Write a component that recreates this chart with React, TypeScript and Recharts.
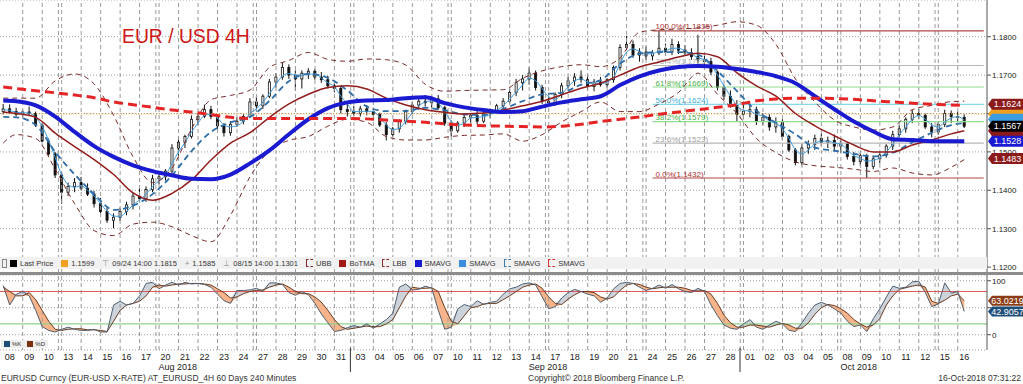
import React from "react";
import {ComposedChart, Bar, Line, Area, XAxis, YAxis, CartesianGrid, ReferenceLine} from "recharts";

const FONT = "'Liberation Sans', Arial, sans-serif";

// trading days on the axis (Aug 08 .. Oct 16 2018)
const dayLabels = [
  "08", "09", "10", "13", "14", "15", "16", "17", "20", "21", "22", "23", "24", "27", "28", "29", "30", "31",
  "03", "04", "05", "06", "07", "10", "11", "12", "13", "14", "17", "18", "19", "20", "21", "24", "25", "26", "27", "28",
  "01", "02", "03", "04", "05", "08", "09", "10", "11", "12", "15", "16",
];
const fridays = [2, 7, 12, 17, 22, 27, 32, 37, 42, 47];
const monthLabels = ["Aug 2018", "Sep 2018", "Oct 2018"];
const monthDays = [8, 27, 43];
const monthBreaks = [18, 38];

// 8h candles: open, high, low, close
const candles: number[][] = [
  // Aug 07 (late)
  [1.1605, 1.1625, 1.1598, 1.1612],
  // Aug 08
  [1.1612, 1.1624, 1.1600, 1.1605], [1.1605, 1.1615, 1.1592, 1.1598], [1.1598, 1.1610, 1.1590, 1.1604],
  // Aug 09
  [1.1604, 1.1618, 1.1595, 1.1600], [1.1600, 1.1605, 1.1565, 1.1570], [1.1570, 1.1575, 1.1525, 1.1528],
  // Aug 10
  [1.1528, 1.1535, 1.1490, 1.1495], [1.1495, 1.1500, 1.1432, 1.1440], [1.1440, 1.1448, 1.1365, 1.1395],
  // Aug 13
  [1.1395, 1.1420, 1.1385, 1.1410], [1.1410, 1.1432, 1.1395, 1.1420], [1.1420, 1.1435, 1.1400, 1.1405],
  // Aug 14
  [1.1405, 1.1418, 1.1385, 1.1390], [1.1390, 1.1398, 1.1355, 1.1365], [1.1365, 1.1380, 1.1340, 1.1345],
  // Aug 15
  [1.1345, 1.1355, 1.1315, 1.1322], [1.1322, 1.1340, 1.1301, 1.1330], [1.1330, 1.1355, 1.1320, 1.1345],
  // Aug 16
  [1.1345, 1.1370, 1.1335, 1.1362], [1.1362, 1.1395, 1.1350, 1.1385], [1.1385, 1.1405, 1.1370, 1.1378],
  // Aug 17
  [1.1378, 1.1410, 1.1370, 1.1402], [1.1402, 1.1440, 1.1395, 1.1430], [1.1430, 1.1445, 1.1415, 1.1435],
  // Aug 20
  [1.1435, 1.1455, 1.1425, 1.1450], [1.1450, 1.1520, 1.1445, 1.1510], [1.1510, 1.1540, 1.1490, 1.1525],
  // Aug 21
  [1.1525, 1.1545, 1.1510, 1.1540], [1.1540, 1.1595, 1.1535, 1.1585], [1.1585, 1.1600, 1.1570, 1.1592],
  // Aug 22
  [1.1592, 1.1623, 1.1588, 1.1610], [1.1610, 1.1620, 1.1585, 1.1592], [1.1592, 1.1598, 1.1560, 1.1568],
  // Aug 23
  [1.1568, 1.1575, 1.1540, 1.1550], [1.1550, 1.1580, 1.1542, 1.1572], [1.1572, 1.1590, 1.1565, 1.1580],
  // Aug 24
  [1.1580, 1.1598, 1.1572, 1.1592], [1.1592, 1.1640, 1.1588, 1.1630], [1.1630, 1.1645, 1.1605, 1.1620],
  // Aug 27
  [1.1620, 1.1650, 1.1612, 1.1645], [1.1645, 1.1690, 1.1640, 1.1682], [1.1682, 1.1705, 1.1668, 1.1695],
  // Aug 28
  [1.1695, 1.1733, 1.1688, 1.1720], [1.1720, 1.1728, 1.1690, 1.1700], [1.1700, 1.1712, 1.1660, 1.1690],
  // Aug 29
  [1.1690, 1.1712, 1.1665, 1.1705], [1.1705, 1.1718, 1.1690, 1.1710], [1.1710, 1.1716, 1.1688, 1.1695],
  // Aug 30
  [1.1695, 1.1708, 1.1680, 1.1688], [1.1688, 1.1698, 1.1665, 1.1672], [1.1672, 1.1680, 1.1655, 1.1665],
  // Aug 31
  [1.1665, 1.1670, 1.1600, 1.1610], [1.1610, 1.1625, 1.1592, 1.1605], [1.1605, 1.1620, 1.1595, 1.1600],
  // Sep 03
  [1.1600, 1.1620, 1.1592, 1.1612], [1.1612, 1.1622, 1.1595, 1.1605], [1.1605, 1.1615, 1.1592, 1.1598],
  // Sep 04
  [1.1598, 1.1602, 1.1565, 1.1570], [1.1570, 1.1578, 1.1530, 1.1545], [1.1545, 1.1565, 1.1540, 1.1560],
  // Sep 05
  [1.1560, 1.1585, 1.1550, 1.1580], [1.1580, 1.1610, 1.1572, 1.1605], [1.1605, 1.1630, 1.1598, 1.1622],
  // Sep 06
  [1.1622, 1.1642, 1.1610, 1.1632], [1.1632, 1.1648, 1.1618, 1.1628], [1.1628, 1.1645, 1.1615, 1.1638],
  // Sep 07
  [1.1638, 1.1648, 1.1610, 1.1615], [1.1615, 1.1620, 1.1568, 1.1575], [1.1575, 1.1582, 1.1540, 1.1555],
  // Sep 10
  [1.1555, 1.1580, 1.1550, 1.1575], [1.1575, 1.1598, 1.1565, 1.1590], [1.1590, 1.1600, 1.1575, 1.1595],
  // Sep 11
  [1.1595, 1.1610, 1.1572, 1.1580], [1.1580, 1.1605, 1.1575, 1.1600], [1.1600, 1.1612, 1.1588, 1.1605],
  // Sep 12
  [1.1605, 1.1625, 1.1600, 1.1620], [1.1620, 1.1640, 1.1612, 1.1632], [1.1632, 1.1665, 1.1625, 1.1655],
  // Sep 13
  [1.1655, 1.1690, 1.1645, 1.1680], [1.1680, 1.1700, 1.1660, 1.1690], [1.1690, 1.1720, 1.1675, 1.1705],
  // Sep 14
  [1.1705, 1.1712, 1.1660, 1.1668], [1.1668, 1.1675, 1.1625, 1.1632], [1.1632, 1.1645, 1.1622, 1.1628],
  // Sep 17
  [1.1628, 1.1655, 1.1620, 1.1650], [1.1650, 1.1680, 1.1640, 1.1672], [1.1672, 1.1695, 1.1665, 1.1685],
  // Sep 18
  [1.1685, 1.1705, 1.1672, 1.1695], [1.1695, 1.1712, 1.1680, 1.1688], [1.1688, 1.1700, 1.1660, 1.1670],
  // Sep 19
  [1.1670, 1.1690, 1.1658, 1.1682], [1.1682, 1.1695, 1.1670, 1.1675], [1.1675, 1.1692, 1.1668, 1.1688],
  // Sep 20
  [1.1688, 1.1725, 1.1680, 1.1720], [1.1720, 1.1780, 1.1712, 1.1772], [1.1772, 1.1802, 1.1765, 1.1780],
  // Sep 21
  [1.1780, 1.1790, 1.1745, 1.1752], [1.1752, 1.1770, 1.1735, 1.1760], [1.1760, 1.1775, 1.1740, 1.1750],
  // Sep 24
  [1.1750, 1.1765, 1.1738, 1.1758], [1.1758, 1.1815, 1.1752, 1.1770], [1.1770, 1.1782, 1.1750, 1.1760],
  // Sep 25
  [1.1760, 1.1795, 1.1752, 1.1780], [1.1780, 1.1788, 1.1755, 1.1765], [1.1765, 1.1778, 1.1750, 1.1758],
  // Sep 26
  [1.1758, 1.1770, 1.1740, 1.1748], [1.1748, 1.1805, 1.1730, 1.1740], [1.1740, 1.1752, 1.1720, 1.1735],
  // Sep 27
  [1.1735, 1.1745, 1.1700, 1.1708], [1.1708, 1.1712, 1.1660, 1.1668], [1.1668, 1.1675, 1.1635, 1.1645],
  // Sep 28
  [1.1645, 1.1660, 1.1615, 1.1622], [1.1622, 1.1635, 1.1580, 1.1598], [1.1598, 1.1625, 1.1585, 1.1605],
  // Oct 01
  [1.1605, 1.1625, 1.1590, 1.1610], [1.1610, 1.1618, 1.1570, 1.1580], [1.1580, 1.1600, 1.1570, 1.1590],
  // Oct 02
  [1.1590, 1.1598, 1.1555, 1.1565], [1.1565, 1.1590, 1.1550, 1.1578], [1.1578, 1.1585, 1.1530, 1.1540],
  // Oct 03
  [1.1540, 1.1545, 1.1500, 1.1505], [1.1505, 1.1510, 1.1465, 1.1472], [1.1472, 1.1520, 1.1465, 1.1510],
  // Oct 04
  [1.1510, 1.1530, 1.1495, 1.1520], [1.1520, 1.1545, 1.1505, 1.1535], [1.1535, 1.1548, 1.1515, 1.1525],
  // Oct 05
  [1.1525, 1.1540, 1.1510, 1.1530], [1.1530, 1.1545, 1.1505, 1.1515], [1.1515, 1.1530, 1.1498, 1.1522],
  // Oct 08
  [1.1522, 1.1525, 1.1480, 1.1488], [1.1488, 1.1500, 1.1465, 1.1475], [1.1475, 1.1498, 1.1465, 1.1490],
  // Oct 09
  [1.1490, 1.1495, 1.1432, 1.1462], [1.1462, 1.1490, 1.1455, 1.1482], [1.1482, 1.1500, 1.1470, 1.1492],
  // Oct 10
  [1.1492, 1.1520, 1.1485, 1.1515], [1.1515, 1.1555, 1.1505, 1.1545], [1.1545, 1.1570, 1.1535, 1.1560],
  // Oct 11
  [1.1560, 1.1590, 1.1550, 1.1585], [1.1585, 1.1610, 1.1575, 1.1600], [1.1600, 1.1612, 1.1585, 1.1595],
  // Oct 12
  [1.1595, 1.1600, 1.1560, 1.1565], [1.1565, 1.1575, 1.1538, 1.1552], [1.1552, 1.1580, 1.1545, 1.1572],
  // Oct 15
  [1.1572, 1.1610, 1.1565, 1.1600], [1.1600, 1.1608, 1.1575, 1.1592], [1.1592, 1.1605, 1.1578, 1.1590],
  // Oct 16
  [1.1590, 1.1598, 1.1562, 1.1567],
];

// fast SMAVG (thin light blue), one value per candle
const smaFast = [1.1610,
  1.1608, 1.1603, 1.1602, 1.1601, 1.1590, 1.1566, 1.1530, 1.1485, 1.1440, 1.1415, 1.1408, 1.1412,
  1.1400, 1.1385, 1.1365, 1.1345, 1.1333, 1.1332, 1.1345, 1.1362, 1.1375, 1.1390, 1.1410, 1.1425,
  1.1440, 1.1470, 1.1500, 1.1525, 1.1552, 1.1575, 1.1595, 1.1598, 1.1588, 1.1570, 1.1565, 1.1568,
  1.1580, 1.1600, 1.1612, 1.1630, 1.1652, 1.1675, 1.1698, 1.1704, 1.1700, 1.1700, 1.1702, 1.1703,
  1.1692, 1.1680, 1.1670, 1.1645, 1.1625, 1.1605, 1.1605, 1.1606, 1.1605, 1.1590, 1.1570, 1.1558,
  1.1562, 1.1580, 1.1602, 1.1620, 1.1630, 1.1633, 1.1627, 1.1605, 1.1580, 1.1570, 1.1575, 1.1588,
  1.1590, 1.1592, 1.1597, 1.1608, 1.1620, 1.1638, 1.1655, 1.1675, 1.1692, 1.1685, 1.1665, 1.1643,
  1.1637, 1.1650, 1.1670, 1.1685, 1.1690, 1.1682, 1.1680, 1.1678, 1.1682, 1.1695, 1.1730, 1.1760,
  1.1768, 1.1762, 1.1755, 1.1756, 1.1762, 1.1763, 1.1770, 1.1770, 1.1763, 1.1755, 1.1745, 1.1740,
  1.1725, 1.1700, 1.1672, 1.1645, 1.1620, 1.1608, 1.1606, 1.1598, 1.1593, 1.1580, 1.1575, 1.1560,
  1.1535, 1.1505, 1.1495, 1.1505, 1.1522, 1.1528, 1.1528, 1.1523, 1.1520, 1.1505, 1.1490, 1.1484,
  1.1476, 1.1478, 1.1485, 1.1500, 1.1520, 1.1545, 1.1565, 1.1585, 1.1595, 1.1585, 1.1570, 1.1565,
  1.1578, 1.1588, 1.1592,
  1.1582];

// slower lines, one value per day (first = Aug 07 late, last = Oct 16)
const smaLong = [1.1634,
  1.1632, 1.1621, 1.1592, 1.1552, 1.1515, 1.1487, 1.1465, 1.1450, 1.1439, 1.1430,
  1.1429, 1.1441, 1.1470, 1.1504, 1.1546, 1.1585, 1.1614, 1.1629, 1.1634, 1.1635,
  1.1640, 1.1642, 1.1627, 1.1616, 1.1609, 1.1604, 1.1606, 1.1618, 1.1629, 1.1637,
  1.1645, 1.1674, 1.1697, 1.1712, 1.1721, 1.1724, 1.1722, 1.1716, 1.1708, 1.1697,
  1.1679, 1.1645, 1.1611, 1.1579, 1.1553, 1.1533, 1.1531, 1.1528, 1.1528,
  1.1528];
const sma200 = [1.1669,
  1.1665, 1.1659, 1.1654, 1.1648, 1.1641, 1.1630, 1.1623, 1.1616, 1.1609, 1.1604,
  1.1597, 1.1590, 1.1587, 1.1587, 1.1587, 1.1587, 1.1587, 1.1587, 1.1586, 1.1583,
  1.1580, 1.1577, 1.1573, 1.1570, 1.1568, 1.1567, 1.1566, 1.1565, 1.1567, 1.1572,
  1.1579, 1.1585, 1.1591, 1.1598, 1.1604, 1.1610, 1.1616, 1.1623, 1.1633, 1.1638,
  1.1640, 1.1640, 1.1639, 1.1637, 1.1633, 1.1630, 1.1627, 1.1624, 1.1622,
  1.1621];
const botma = [1.1604,
  1.1600, 1.1590, 1.1549, 1.1514, 1.1480, 1.1441, 1.1393, 1.1374, 1.1392, 1.1427,
  1.1479, 1.1523, 1.1550, 1.1590, 1.1625, 1.1650, 1.1668, 1.1672, 1.1664, 1.1640,
  1.1622, 1.1610, 1.1603, 1.1599, 1.1601, 1.1609, 1.1620, 1.1632, 1.1649, 1.1666,
  1.1679, 1.1700, 1.1721, 1.1734, 1.1747, 1.1757, 1.1748, 1.1706, 1.1672, 1.1645,
  1.1600, 1.1568, 1.1542, 1.1518, 1.1500, 1.1500, 1.1518, 1.1531, 1.1547,
  1.1555];
const smaMid = [1.1591,
  1.1590, 1.1570, 1.1500, 1.1441, 1.1390, 1.1349, 1.1360, 1.1390, 1.1439, 1.1502,
  1.1552, 1.1577, 1.1591, 1.1633, 1.1684, 1.1703, 1.1693, 1.1660, 1.1618, 1.1606,
  1.1607, 1.1615, 1.1608, 1.1598, 1.1596, 1.1612, 1.1632, 1.1650, 1.1654, 1.1675,
  1.1687, 1.1730, 1.1756, 1.1760, 1.1760, 1.1753, 1.1711, 1.1658, 1.1607, 1.1576,
  1.1546, 1.1511, 1.1503, 1.1495, 1.1488, 1.1498, 1.1525, 1.1550, 1.1570,
  1.1575];
const ubb = [1.1640,
  1.1640, 1.1640, 1.1685, 1.1703, 1.1677, 1.1595, 1.1487, 1.1420, 1.1458, 1.1560,
  1.1636, 1.1647, 1.1661, 1.1720, 1.1738, 1.1759, 1.1741, 1.1736, 1.1742, 1.1740,
  1.1726, 1.1676, 1.1658, 1.1660, 1.1661, 1.1662, 1.1692, 1.1711, 1.1722, 1.1727,
  1.1722, 1.1745, 1.1812, 1.1818, 1.1820, 1.1823, 1.1830, 1.1839, 1.1830, 1.1780,
  1.1690, 1.1630, 1.1583, 1.1565, 1.1557, 1.1565, 1.1610, 1.1621, 1.1631,
  1.1632];
const lbb = [1.1523,
  1.1545, 1.1535, 1.1455, 1.1365, 1.1295, 1.1282, 1.1312, 1.1317, 1.1305, 1.1282,
  1.1266, 1.1335, 1.1435, 1.1503, 1.1530, 1.1540, 1.1567, 1.1585, 1.1577, 1.1540,
  1.1531, 1.1531, 1.1538, 1.1543, 1.1544, 1.1547, 1.1528, 1.1545, 1.1578, 1.1605,
  1.1630, 1.1605, 1.1605, 1.1625, 1.1655, 1.1705, 1.1650, 1.1600, 1.1535, 1.1498,
  1.1474, 1.1464, 1.1460, 1.1455, 1.1449, 1.1458, 1.1445, 1.1440, 1.1460,
  1.1480];

// stochastics, one value per candle
const stochK = [91,
  55, 75, 80, 72, 45, 15, 8, 5, 10, 14, 10, 8, 8, 10, 5, 5, 55, 62, 55, 58, 72, 95, 97, 85,
  92, 97, 92, 97, 94, 95, 93, 88, 75, 63, 58, 82, 82, 83, 86,
  80, 96, 96, 93, 78, 73, 80, 74, 58, 38, 22, 6, 8, 13, 17,
  14, 20, 12, 20, 28, 40, 88, 94, 83, 84, 90, 86, 45, 10, 14, 48, 56, 52, 63, 56, 60,
  62, 75, 85, 88, 94, 96, 92, 70, 48, 52, 68, 78, 84, 80, 75, 72, 60, 68, 85, 95, 97,
  95, 88, 82, 86, 92, 86, 93, 85, 80, 78, 86, 80, 55, 35, 18, 12, 10, 20,
  28, 14, 10, 18, 25, 20, 8, 6, 22, 40, 55, 60, 55, 48, 40, 25, 15, 18, 6, 30, 48,
  70, 90, 86, 88, 98, 99, 78, 52, 57, 96, 77, 80,
  43];
const stochD = [88,
  80, 72, 72, 78, 65, 45, 25, 10, 8, 10, 11, 11, 9, 9, 8, 6, 25, 45, 55, 58, 62, 72, 88, 92,
  90, 92, 94, 94, 95, 95, 94, 92, 85, 78, 68, 70, 76, 80, 82,
  83, 88, 92, 94, 88, 80, 76, 76, 70, 60, 45, 28, 15, 10, 12,
  14, 16, 15, 15, 20, 28, 50, 72, 88, 86, 86, 87, 80, 50, 25, 20, 35, 50, 52, 57, 58,
  58, 65, 72, 80, 88, 92, 94, 86, 70, 58, 56, 66, 74, 80, 80, 78, 70, 66, 70, 82, 92,
  95, 93, 88, 85, 87, 88, 88, 88, 86, 82, 81, 82, 75, 58, 36, 22, 14, 14,
  18, 18, 16, 14, 18, 21, 18, 12, 12, 22, 38, 50, 56, 54, 48, 40, 28, 20, 14, 18, 30,
  55, 72, 84, 87, 90, 92, 88, 62, 58, 64, 72, 75,
  63];

const priceTicks = [1.12, 1.13, 1.14, 1.15, 1.16, 1.17, 1.18];
const priceDomain = [1.11846, 1.18956];
const fibNames = ["100.0%", "76.4%", "61.8%", "50.0%", "38.2%", "23.6%", "0.0%"];
const fibLevels = [1.1815, 1.1725, 1.1669, 1.1624, 1.1579, 1.1523, 1.1432];
const fibLine = ["#b04848", "#b8b8b8", "#90dc90", "#84d8ec", "#90dc90", "#b8b8b8", "#b04848"];
const fibText = ["#b03030", "#b0b0b0", "#48b048", "#3cb0d8", "#48b048", "#a0a0a0", "#b03030"];
// tags at the right edge; the first three sit mostly under the others
const hiddenTags = [1.1599, 1.1585, 1.1555];
const hiddenTagColors = ["#f0a020", "#3c9ce0", "#8b1a1a"];
const priceTags = [1.1624, 1.1567, 1.1528, 1.1483];
const priceTagColors = ["#8b1a1a", "#000000", "#1a1ad0", "#8b1a1a"];
const stochTags = [63.0219, 42.9057];
const stochTagColors = ["#8c3c14", "#1f4e79"];

const SLOTS = 152;
const LINE_KEYS = ["smaLong", "sma200", "botma", "smaMid", "ubb", "lbb"];

function buildRows() {
  const rows: any[] = [];
  for (let i = 0; i < SLOTS; i++) {
    const c = candles[i];
    const r: any = {
      i,
      o: c ? c[0] : null, h: c ? c[1] : null, l: c ? c[2] : null, c: c ? c[3] : null,
      fast: i < smaFast.length ? smaFast[i] : null,
      k: i < stochK.length ? stochK[i] : null,
      d: i < stochD.length ? stochD[i] : null,
    };
    LINE_KEYS.forEach((key) => (r[key] = null));
    rows.push(r);
  }
  // daily line values sit on the middle candle of each day
  const lineSlot = (j: number) => (j === 0 ? 0 : j === smaLong.length - 1 ? candles.length - 1 : 3 * (j - 1) + 2);
  smaLong.forEach((v, j) => {
    const r = rows[lineSlot(j)];
    r.smaLong = v; r.sma200 = sma200[j]; r.botma = botma[j]; r.smaMid = smaMid[j]; r.ubb = ubb[j]; r.lbb = lbb[j];
  });
  return rows;
}

const Candle = (props: any) => {
  const {x, y, width, height, payload} = props;
  if (!payload || payload.h == null) return null;
  const {o, h, l, c} = payload;
  const span = h - l || 1e-9;
  const toY = (v: number) => y + ((h - v) / span) * height;
  const cx = x + width / 2;
  const top = toY(Math.max(o, c));
  const bot = toY(Math.min(o, c));
  const bw = Math.max(2, width * 0.42);
  const up = c >= o;
  return (
    <g>
      <line x1={cx} x2={cx} y1={y} y2={y + height} stroke="#111" strokeWidth={1}/>
      <rect x={cx - bw / 2} y={top} width={bw} height={Math.max(1, bot - top)} fill={up ? "#fff" : "#111"} stroke="#111" strokeWidth={0.8}/>
    </g>
  );
};

const Tag = (props: any) => {
  const {viewBox, text, bg, h = 11} = props;
  if (!viewBox) return null;
  const x0 = viewBox.x + viewBox.width;
  const y0 = viewBox.y;
  const w = 36;
  const pts = `${x0 + 1},${y0} ${x0 + 5},${y0 - h / 2} ${x0 + w},${y0 - h / 2} ${x0 + w},${y0 + h / 2} ${x0 + 5},${y0 + h / 2}`;
  return (
    <g>
      <polygon points={pts} fill={bg}/>
      {text && <text x={x0 + 20.5} y={y0 + 3.2} fontSize={9} fill="#fff" textAnchor="middle" fontFamily={FONT}>{text}</text>}
    </g>
  );
};

const FibLabel = (props: any) => {
  const {viewBox, text, color} = props;
  if (!viewBox) return null;
  return <text x={viewBox.x + 3} y={viewBox.y - 1.5} fontSize={8} fill={color} fontFamily={FONT}>{text}</text>;
};

const DayTick = (props: any) => {
  const {x, y, payload} = props;
  const slot = payload.value as number;
  const k = (slot - 1) / 3;
  if (slot < 1 || !Number.isInteger(k) || k >= dayLabels.length) return null;
  const m = monthDays.indexOf(k);
  return (
    <g fontFamily={FONT} fontSize={9} fill="#222">
      <text x={x} y={y + 10} textAnchor="middle">{dayLabels[k]}</text>
      {m >= 0 && <text x={x - 7} y={y + 20}>{monthLabels[m]}</text>}
      {monthBreaks.includes(k) && <line x1={x - 10} x2={x - 10} y1={y - 2} y2={y + 22} stroke="#333" strokeWidth={1}/>}
    </g>
  );
};

function dayLines() {
  const out: any[] = [];
  for (let k = 0; k < dayLabels.length - 1; k++) {
    const slot = 3 * k + 3;
    out.push(<ReferenceLine key={`v${k}`} x={slot} position="middle" stroke="#9a9a9a" strokeDasharray="4 3"/>);
    if (fridays.includes(k)) {
      out.push(<ReferenceLine key={`w${k}`} x={slot} position="start" stroke="#9a9a9a" strokeDasharray="4 3"/>);
    }
  }
  return out;
}

const legendItems: [string, string, string][] = [
  ["sq", "#000", "Last Price"], ["sq", "#f0a020", "1.1599"], ["t", "#888", "09/24 14:00 1.1815"],
  ["p", "#888", "1.1585"], ["b", "#888", "08/15 14:00 1.1301"], ["dash", "#8b2a2a", "UBB"],
  ["sq", "#a01818", "BoTMA"], ["dash", "#8b2a2a", "LBB"], ["sq", "#1a1ad0", "SMAVG"],
  ["sq", "#3c8ce0", "SMAVG"], ["dash", "#3c7cb0", "SMAVG"], ["dash", "#e03030", "SMAVG"],
];

const tickStyle = {fontSize: 8, fill: "#222", fontFamily: FONT};

export default function App() {
  const rows = buildRows();
  return (
    <div style={{position: "absolute", left: 0, top: 0, width: 1023, height: 384, background: "#fff", overflow: "hidden", fontFamily: FONT}}>
      {/* price panel: grid, levels and candles */}
      <div style={{position: "absolute", left: 0, top: 0}}>
        <ComposedChart width={1023} height={273} data={rows} margin={{top: 0, right: 0, bottom: 0, left: 0}}>
          <CartesianGrid vertical={false} stroke="#a0a0a0" strokeDasharray="1 2"/>
          <XAxis dataKey="i" scale="band" hide/>
          <YAxis orientation="right" width={36} domain={priceDomain} allowDataOverflow ticks={priceTicks}
                 tickFormatter={(v: number) => v.toFixed(4)} tickSize={4} tickMargin={1} tick={tickStyle} stroke="#555"/>
          {dayLines()}
          {fibLevels.map((v, n) => (
            <ReferenceLine key={`f${n}`} segment={[{x: 100, y: v}, {x: SLOTS - 1, y: v}]} stroke={fibLine[n]} strokeWidth={1.2}
                           label={<FibLabel text={`${fibNames[n]}(${v.toFixed(4)})`} color={fibText[n]}/>}/>
          ))}
          <ReferenceLine y={1.1599} stroke="#f0a030" strokeDasharray="1 1.5"/>
          <Bar dataKey={(d: any) => (d.h == null ? null : [d.l, d.h])} shape={<Candle/>} isAnimationActive={false}/>
        </ComposedChart>
      </div>
      {/* price panel: moving averages and bands drawn above the candles */}
      <div style={{position: "absolute", left: 0, top: 0, pointerEvents: "none"}}>
        <ComposedChart width={1023} height={273} data={rows} margin={{top: 0, right: 0, bottom: 0, left: 0}}>
          <XAxis dataKey="i" scale="band" hide/>
          <YAxis orientation="right" width={36} domain={priceDomain} allowDataOverflow ticks={priceTicks}
                 tick={false} tickLine={false} axisLine={false}/>
          <Line dataKey="fast" type="monotone" stroke="#3c9ce0" strokeWidth={1} dot={false} isAnimationActive={false}/>
          <Line dataKey="ubb" type="monotone" stroke="#7a2a2a" strokeWidth={1} strokeDasharray="5 4" dot={false} connectNulls isAnimationActive={false}/>
          <Line dataKey="lbb" type="monotone" stroke="#7a2a2a" strokeWidth={1} strokeDasharray="5 4" dot={false} connectNulls isAnimationActive={false}/>
          <Line dataKey="smaMid" type="monotone" stroke="#2f6ea8" strokeWidth={1.8} strokeDasharray="6 4" dot={false} connectNulls isAnimationActive={false}/>
          <Line dataKey="botma" type="monotone" stroke="#931c1c" strokeWidth={1.5} dot={false} connectNulls isAnimationActive={false}/>
          <Line dataKey="smaLong" type="monotone" stroke="#1a1ad0" strokeWidth={4} dot={false} connectNulls isAnimationActive={false}/>
          <Line dataKey="sma200" type="monotone" stroke="#e52525" strokeWidth={3} strokeDasharray="9 5" dot={false} connectNulls isAnimationActive={false}/>
          {hiddenTags.map((v, n) => (
            <ReferenceLine key={`h${n}`} y={v} stroke="none" label={<Tag text="" bg={hiddenTagColors[n]}/>}/>
          ))}
          {priceTags.map((v, n) => (
            <ReferenceLine key={`t${n}`} y={v} stroke="none" label={<Tag text={v.toFixed(4)} bg={priceTagColors[n]}/>}/>
          ))}
        </ComposedChart>
      </div>

      <div style={{position: "absolute", left: 122, top: 24, color: "#d01515", fontSize: 21, whiteSpace: "nowrap", transform: "scaleX(0.92)", transformOrigin: "left top"}}>
        EUR / USD 4H
      </div>

      <div style={{position: "absolute", left: 0, top: 257, width: 987, height: 12, background: "#f1f1f1", display: "flex", alignItems: "center", fontSize: 7.5, color: "#333", whiteSpace: "nowrap"}}>
        <span style={{width: 3, height: 7, border: "1px solid #888", marginLeft: 2, marginRight: 3}}/>
        {legendItems.map(([kind, color, text], n) => (
          <span key={n} style={{display: "flex", alignItems: "center", marginRight: 8}}>
            {kind === "sq" && <span style={{width: 7, height: 7, background: color, marginRight: 3}}/>}
            {kind === "dash" && <span style={{width: 6, height: 6, borderTop: `1px dashed ${color}`, borderBottom: `1px dashed ${color}`, borderLeft: `1px solid ${color}`, marginRight: 3}}/>}
            {kind === "t" && <span style={{color, marginRight: 3}}>⊤</span>}
            {kind === "p" && <span style={{color, marginRight: 3}}>+</span>}
            {kind === "b" && <span style={{color, marginRight: 3}}>⊥</span>}
            {text}
          </span>
        ))}
      </div>

      <div style={{position: "absolute", left: 0, top: 272, width: 1023, height: 3, background: "#8c8c8c"}}/>

      {/* stochastic panel */}
      <div style={{position: "absolute", left: 0, top: 275}}>
        <ComposedChart width={1023} height={99} data={rows} margin={{top: 0, right: 0, bottom: 0, left: 0}}>
          <CartesianGrid vertical={false} stroke="#a0a0a0" strokeDasharray="1 2"/>
          <XAxis dataKey="i" scale="band" interval={0} tick={<DayTick/>} tickLine={false} axisLine={false} tickSize={0} tickMargin={0} height={24}/>
          <YAxis orientation="right" width={36} domain={[-28.3, 110.6]} allowDataOverflow ticks={[0, 50, 100]}
                 tickFormatter={(v: number) => (v === 50 ? "" : String(v))} tickSize={4} tickMargin={1} tick={tickStyle} stroke="#555"/>
          {dayLines()}
          <ReferenceLine y={80} stroke="#e05858" strokeWidth={1.2}/>
          <ReferenceLine y={20} stroke="#8fd08f" strokeWidth={1.2}/>
          <Area dataKey={(d: any) => (d.k == null ? null : [d.d, Math.max(d.k, d.d)])} stroke="none" fill="#cdd3da" fillOpacity={1} isAnimationActive={false}/>
          <Area dataKey={(d: any) => (d.k == null ? null : [Math.min(d.k, d.d), d.d])} stroke="none" fill="#f7b48a" fillOpacity={1} isAnimationActive={false}/>
          <Line dataKey="d" stroke="#6b3a1e" strokeWidth={1} dot={false} isAnimationActive={false}/>
          <Line dataKey="k" stroke="#4f5f70" strokeWidth={1} dot={false} isAnimationActive={false}/>
          {stochTags.map((v, n) => (
            <ReferenceLine key={`s${n}`} y={v} stroke="none" label={<Tag text={v.toFixed(4)} bg={stochTagColors[n]} h={10}/>}/>
          ))}
        </ComposedChart>
      </div>

      <div style={{position: "absolute", left: 1, top: 340, height: 8, background: "#eeeeee", display: "flex", alignItems: "center", fontSize: 6, color: "#333", padding: "0 3px"}}>
        <span style={{width: 6, height: 6, background: "#1f4e79", marginRight: 2}}/>%K
        <span style={{width: 6, height: 6, background: "#7a3010", margin: "0 2px 0 6px"}}/>%D
      </div>

      <div style={{position: "absolute", left: 1, top: 373, fontSize: 8.5, color: "#333", whiteSpace: "nowrap"}}>
        EURUSD Curncy (EUR-USD X-RATE) AT_EURUSD_4H 60 Days 240 Minutes
      </div>
      <div style={{position: "absolute", left: 528, top: 373, fontSize: 8.5, color: "#333", whiteSpace: "nowrap"}}>
        Copyright© 2018 Bloomberg Finance L.P.
      </div>
      <div style={{position: "absolute", right: 2, top: 373, fontSize: 8.5, color: "#333", whiteSpace: "nowrap"}}>
        16-Oct-2018 07:31:22
      </div>
    </div>
  );
}
